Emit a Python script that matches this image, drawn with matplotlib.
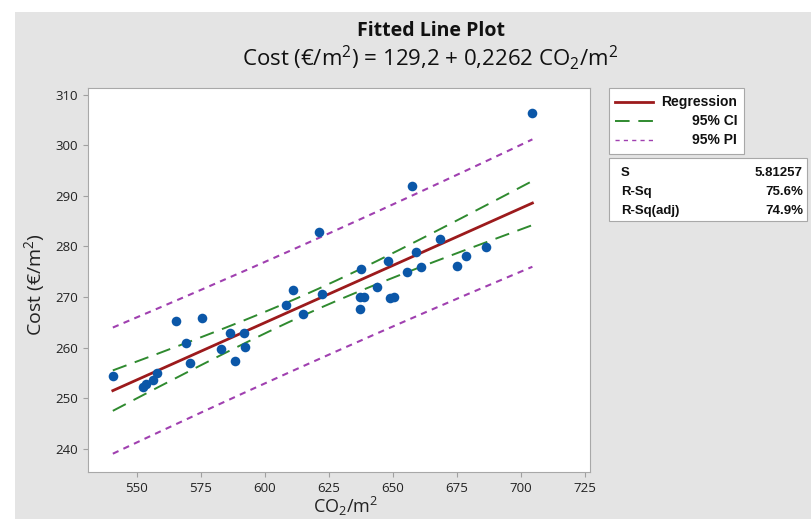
import numpy as np
import matplotlib
matplotlib.use("Agg")
import matplotlib.pyplot as plt
from matplotlib.patches import Rectangle
from matplotlib.lines import Line2D

plt.rcParams['font.family'] = ['Open Sans', 'DejaVu Sans']
plt.rcParams['mathtext.fontset'] = 'custom'
plt.rcParams['mathtext.rm'] = 'Open Sans'
plt.rcParams['mathtext.it'] = 'Open Sans:italic'
plt.rcParams['mathtext.bf'] = 'Open Sans:bold'

# ---- data ----
co2 = [540.6, 552.2, 553.5, 556.1, 557.7, 565.2, 569.1, 570.7, 575.4, 582.7,
       586.3, 588.3, 591.8, 592.3, 608.2, 610.8, 615.0, 621.2, 622.4, 637.1,
       638.8, 637.1, 637.7, 643.7, 647.9, 648.8, 650.3, 655.6, 657.4, 659.0,
       660.8, 668.4, 675.0, 678.4, 686.5, 704.5]
cost = [254.3, 252.2, 252.8, 253.6, 255.0, 265.3, 260.8, 257.0, 265.9, 259.8,
        262.8, 257.3, 262.8, 260.1, 268.5, 271.3, 266.7, 282.9, 270.5, 270.0,
        270.0, 267.7, 275.6, 272.0, 277.1, 269.7, 269.9, 274.9, 292.0, 278.9,
        276.0, 281.4, 276.2, 278.0, 279.8, 306.4]
intercept = 129.2
slope = 0.2262
s_value = 5.81257
stat_names = ["S", "R-Sq", "R-Sq(adj)"]
stat_values = ["5.81257", "75.6%", "74.9%"]
legend_labels = ["Regression", "95% CI", "95% PI"]
xticks = [550, 575, 600, 625, 650, 675, 700, 725]
yticks = [240, 250, 260, 270, 280, 290, 300, 310]

x = np.array(co2)
y = np.array(cost)
n = len(x)
xbar = x.mean()
sxx = ((x - xbar) ** 2).sum()
t = 2.032  # t(0.975, n-2)
xs = np.linspace(x.min(), x.max(), 200)
fit = intercept + slope * xs
ci = t * s_value * np.sqrt(1.0 / n + (xs - xbar) ** 2 / sxx)
pi = t * s_value * np.sqrt(1 + 1.0 / n + (xs - xbar) ** 2 / sxx)

W, H = 811, 519
fig = plt.figure(figsize=(W / 100, H / 100), dpi=100)
fig.patch.set_facecolor('white')
bg = '#e4e4e4'
fig.add_artist(Rectangle((15 / W, 0), 1, 1 - 12 / H, transform=fig.transFigure,
                         facecolor=bg, edgecolor='none', zorder=-10))

L, R, T, B = 88, 590, 88, 472
ax = fig.add_axes([L / W, 1 - B / H, (R - L) / W, (B - T) / H])
ax.set_facecolor('white')

red = '#9c1a1c'
green = '#2f8a2f'
purple = '#a040b0'
blue = '#0b57a8'

ax.plot(xs, fit, color=red, lw=2.0, zorder=3)
for sgn in (1, -1):
    ax.plot(xs, fit + sgn * ci, color=green, lw=1.4, dashes=(7.5, 4.5), zorder=2)
    ax.plot(xs, fit + sgn * pi, color=purple, lw=1.5, dashes=(3, 2.6), zorder=2)
ax.scatter(x, y, s=48, color=blue, zorder=4, linewidths=0)

ax.set_xlim(530.9, 727)
ax.set_ylim(235.4, 311.3)
ax.set_xticks(xticks)
ax.set_yticks(yticks)
for sp in ax.spines.values():
    sp.set_color('#a8a8a8')
ax.tick_params(colors='#a0a0a0', labelcolor='#222222', labelsize=9.5, length=3.5, width=0.8)

ax.set_xlabel(r"CO$_{2}$/m$^{2}$", fontsize=13, color='#222222')
ax.xaxis.set_label_coords((346 - L) / (R - L), -(506 - B) / (B - T))
ax.xaxis.label.set_va('center')
ax.set_ylabel(r"Cost (€/m$^{2}$)", fontsize=14, color='#222222')
ax.yaxis.set_label_coords(-(L - 35) / (R - L), (B - 285) / (B - T))
ax.yaxis.label.set_va('center')

fig.text(431 / W, 1 - 31 / H, "Fitted Line Plot", ha='center', va='center',
         fontsize=14, fontweight='bold', color='#111111')
fig.text(430 / W, 1 - 58 / H,
         r"Cost (€/m$^{2}$) = 129,2 + 0,2262 CO$_{2}$/m$^{2}$",
         ha='center', va='center', fontsize=16, color='#111111')

# legend box
lf = ['Liberation Sans', 'DejaVu Sans']
fig.add_artist(Rectangle((609 / W, 1 - 154 / H), (744 - 609) / W, (154 - 88) / H,
                         transform=fig.transFigure, facecolor='white',
                         edgecolor='#a8a8a8', lw=0.8))
leg_y = [102, 121, 140]
styles = [dict(color=red, lw=2.0), dict(color=green, lw=1.4, dashes=(7.5, 4.5)),
          dict(color=purple, lw=1.0, dashes=(3, 3))]
for lab, yy, st in zip(legend_labels, leg_y, styles):
    fig.add_artist(Line2D([615 / W, 653 / W], [1 - yy / H, 1 - yy / H],
                          transform=fig.transFigure, **st))
    fig.text(737 / W, 1 - yy / H, lab, ha='right', va='center', fontsize=10,
             fontweight='bold', family=lf, color='#111111')

# stats box
fig.add_artist(Rectangle((609 / W, 1 - 221 / H), (807 - 609) / W, (221 - 158) / H,
                         transform=fig.transFigure, facecolor='white',
                         edgecolor='#a8a8a8', lw=0.8))
st_y = [173, 192, 211]
for nm, val, yy in zip(stat_names, stat_values, st_y):
    fig.text(621 / W, 1 - yy / H, nm, ha='left', va='center', fontsize=9.5,
             fontweight='bold', family=lf, color='#111111')
    fig.text(803 / W, 1 - yy / H, val, ha='right', va='center', fontsize=9.5,
             fontweight='bold', family=lf, color='#111111')

fig.savefig("out.png", dpi=100)
